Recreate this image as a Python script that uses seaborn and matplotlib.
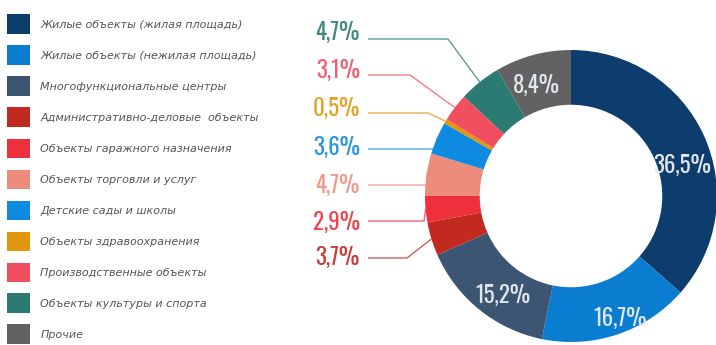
import numpy as np
import matplotlib
matplotlib.use("Agg")
import matplotlib.pyplot as plt
import seaborn as sns
from matplotlib import font_manager as fm
from matplotlib.patches import Patch

# Structure of construction by type of object (share of total, %)
categories = [
    "Жилые объекты (жилая площадь)",
    "Жилые объекты (нежилая площадь)",
    "Многофункциональные центры",
    "Административно-деловые  объекты",
    "Объекты гаражного назначения",
    "Объекты торговли и услуг",
    "Детские сады и школы",
    "Объекты здравоохранения",
    "Производственные объекты",
    "Объекты культуры и спорта",
    "Прочие",
]
shares = [36.5, 16.7, 15.2, 3.7, 2.9, 4.7, 3.6, 0.5, 3.1, 4.7, 8.4]
share_labels = ["36,5%", "16,7%", "15,2%", "3,7%", "2,9%", "4,7%",
                "3,6%", "0,5%", "3,1%", "4,7%", "8,4%"]
colors = ["#0d3d6c", "#0b7dd0", "#3b5572", "#c22a1f", "#ee2f3c", "#ee8c7b",
          "#0e8ae0", "#e0970c", "#f14f5f", "#2b7b73", "#626262"]

sns.set_theme(style="white")
palette = sns.color_palette(colors)

# tall condensed face for the percentages
installed = {f.name for f in fm.fontManager.ttflist}
narrow = next((n for n in ["Oswald", "Bebas Neue", "Barlow Condensed",
                           "Archivo Narrow", "DejaVu Sans"] if n in installed))

W, H = 716, 345
fig = plt.figure(figsize=(W / 100, H / 100), dpi=100)
fig.patch.set_facecolor("white")

# donut axes: centre (571, 196) px, outer radius 146 px
cx, cy, R = 571, 196, 146
ax = fig.add_axes([(cx - R) / W, (H - cy - R) / H, 2 * R / W, 2 * R / H])
wedges, _ = ax.pie(shares, colors=palette, startangle=90, counterclock=False,
                   radius=1.0, wedgeprops=dict(width=0.375, linewidth=0))
ax.set_xlim(-1, 1)
ax.set_ylim(-1, 1)
ax.set_aspect("equal")
ax.axis("off")

def px(x, y):
    """pixel position -> donut data coordinates"""
    return (x - cx) / R, (cy - y) / R

# large shares written inside the ring
inner_pos = {0: (682, 165), 1: (620, 318), 2: (503, 295), 10: (536, 85)}
for i, (x, y) in inner_pos.items():
    ax.text(*px(x, y), share_labels[i], ha="center", va="center",
            color="#e2e7ee", fontsize=16.5, family=narrow, fontweight="light")

# small shares: labels on the left with leader lines
small = [9, 8, 7, 6, 5, 4, 3]
text_y = [32, 70, 108, 147, 185, 222, 257]
line_y = [39, 75, 113, 149, 185, 221, 258]
elbow_x = [448, 410, 428, 437, 427, 424, 407]
for i, ty, ly, ex in zip(small, text_y, line_y, elbow_x):
    w = wedges[i]
    ang = np.deg2rad((w.theta1 + w.theta2) / 2)
    end = (np.cos(ang), np.sin(ang))
    x0, y0 = px(368, ly)
    x1, y1 = px(ex, ly)
    ax.plot([x0, x1, end[0]], [y0, y1, end[1]], color=colors[i], lw=1.0,
            alpha=0.75, clip_on=False, solid_capstyle="butt")
    ax.text(*px(360, ty), share_labels[i], ha="right", va="center",
            color=colors[i], fontsize=16.5, family=narrow, fontweight="light",
            alpha=0.9, clip_on=False)

# legend column
handles = [Patch(facecolor=c, edgecolor="none") for c in palette]
fs = 8.0
fig.legend(handles, categories, loc="upper left",
           bbox_to_anchor=(7 / W, 1 - 14.5 / H), frameon=False,
           handlelength=2.05, handleheight=2.3,
           labelspacing=1.05, handletextpad=0.95, borderpad=0, borderaxespad=0,
           prop=dict(style="italic", size=fs, family="DejaVu Sans"),
           labelcolor="#555555")

fig.savefig("out.png", dpi=100)
